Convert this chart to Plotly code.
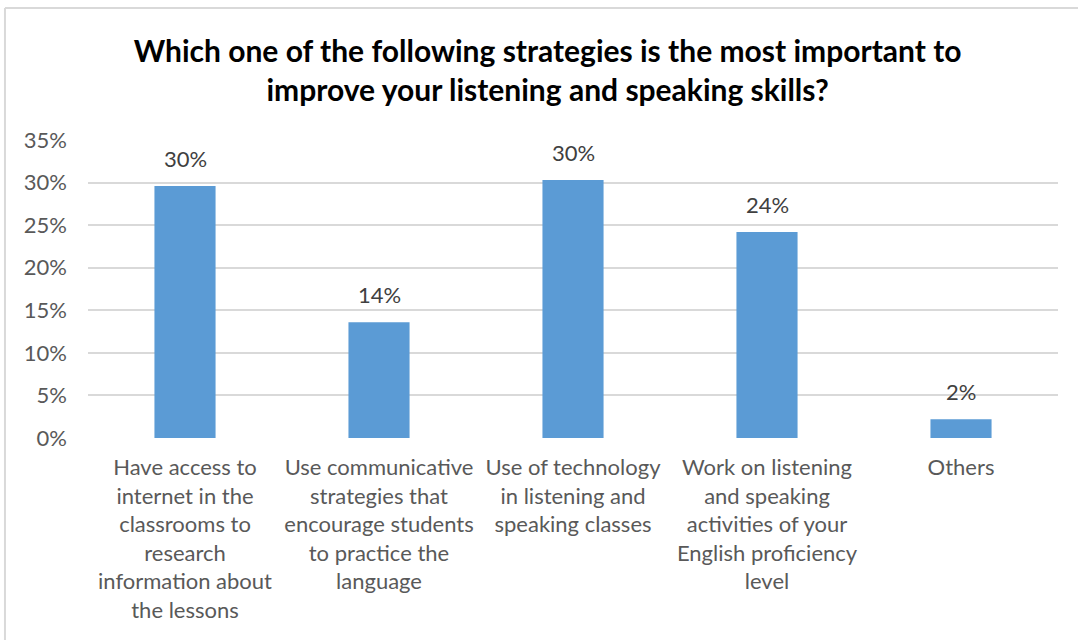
import plotly.graph_objects as go

categories = [
    "Have access to<br>internet in the<br>classrooms to<br>research<br>information about<br>the lessons",
    "Use communicative<br>strategies that<br>encourage students<br>to practice the<br>language",
    "Use of technology<br>in listening and<br>speaking classes",
    "Work on listening<br>and speaking<br>activities of your<br>English proficiency<br>level",
    "Others",
]
shares = [0.296, 0.136, 0.303, 0.242, 0.022]
y_ticks = [0, 0.05, 0.10, 0.15, 0.20, 0.25, 0.30, 0.35]
y_tick_labels = ["0%", "5%", "10%", "15%", "20%", "25%", "30%", "35%"]
title_text = ("Which one of the following strategies is the most important to<br>"
              "improve your listening and speaking skills?")

FONT = "Lato"
GREY = "#595959"

fig = go.Figure()
fig.add_trace(go.Bar(
    x=categories,
    y=shares,
    marker=dict(color="#5B9BD5", line=dict(width=0)),
    width=0.315,
    hoverinfo="skip",
))

# value labels above each bar
for c, v in zip(categories, shares):
    fig.add_annotation(
        x=c, y=v, xref="x", yref="y",
        text=f"{v:.0%}", showarrow=False,
        yanchor="bottom", yshift=12,
        font=dict(family=FONT, size=22, color="#404040"),
    )

# chart frame (left and top edges)
fig.add_shape(type="line", xref="paper", yref="paper",
              x0=-0.0856, x1=-0.0856, y0=-0.75, y1=1.443,
              line=dict(color="#D9D9D9", width=2))
fig.add_shape(type="line", xref="paper", yref="paper",
              x0=-0.0856, x1=1.05, y0=1.443, y1=1.443,
              line=dict(color="#D9D9D9", width=2))

fig.update_layout(
    width=1078, height=640,
    margin=dict(l=88, r=20, t=140, b=202),
    paper_bgcolor="white", plot_bgcolor="white",
    showlegend=False,
    title=dict(
        text=title_text,
        x=0.508, xanchor="center",
        y=1 - 62 / 640, yanchor="middle", yref="container",
        font=dict(family=FONT, size=30, color="black", weight="bold"),
    ),
    xaxis=dict(
        showgrid=False, showline=False, zeroline=False, ticks="",
        tickfont=dict(family=FONT, size=22, color=GREY),
        ticklabelstandoff=14,
        tickangle=0,
    ),
    yaxis=dict(
        range=[0, 0.35],
        tickvals=y_ticks, ticktext=y_tick_labels,
        showgrid=True, gridcolor="#D9D9D9", gridwidth=2,
        zeroline=False, showline=False, ticks="",
        tickfont=dict(family=FONT, size=22, color=GREY),
        ticklabelstandoff=20,
    ),
)

fig.write_html("out.html")
